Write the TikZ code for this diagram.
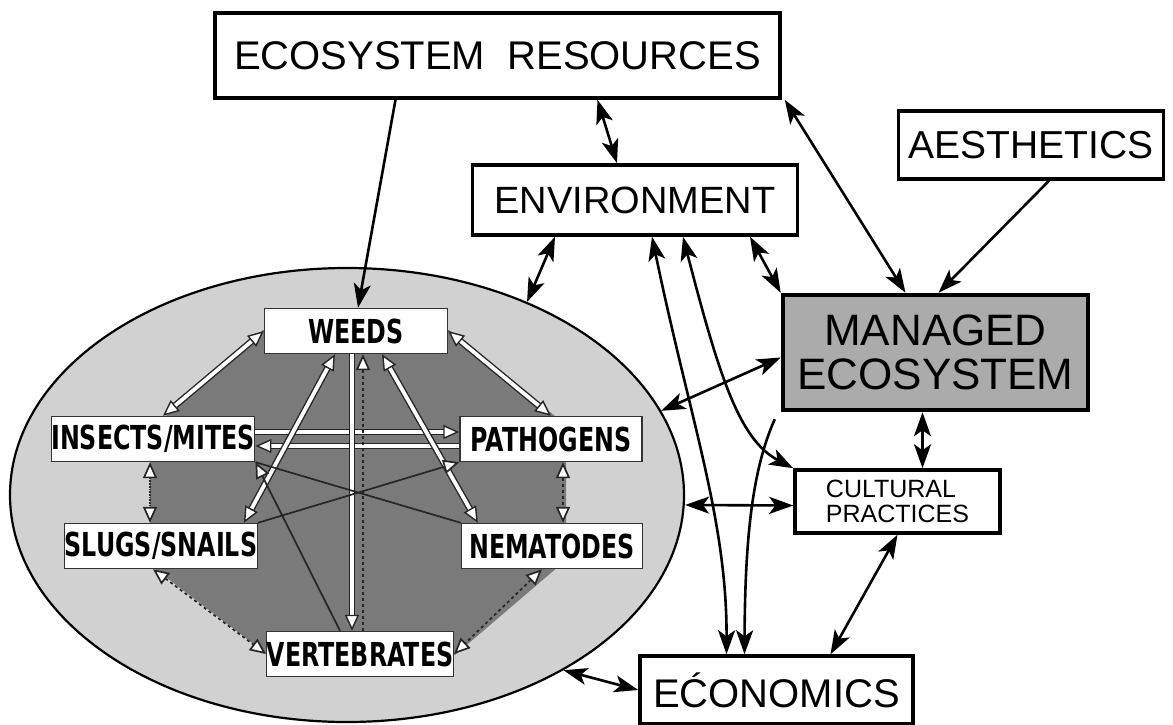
\documentclass[tikz,border=0pt]{standalone}
\usepackage{fontspec}
\setmainfont{Liberation Sans}
\newfontfamily\pestfont[FakeStretch=0.72]{DejaVu Sans Bold}
\usetikzlibrary{positioning, arrows.meta, shapes.geometric}
\tikzset{
  outer/.style={draw, line width=3.5pt, fill=white, inner sep=0pt},
  pest/.style={draw=black!80, line width=1.4pt, fill=white, inner sep=0pt, minimum height=45pt, font=\pestfont\fontsize{33}{33}\selectfont},
  link/.style={line width=2.6pt, {Stealth[length=24pt,width=17pt,inset=6pt]}-{Stealth[length=24pt,width=17pt,inset=6pt]}},
  onelink/.style={line width=2.6pt, -{Stealth[length=24pt,width=17pt,inset=6pt]}},
  band/.style={draw=black!85, line width=1.4pt, double=white, double distance=3.8pt},
  hollow/.style={{Triangle[length=16pt,width=14pt,fill=white]}-{Triangle[length=16pt,width=14pt,fill=white]}},
  onehollow/.style={-{Triangle[length=16pt,width=14pt,fill=white]}},
  thin/.style={draw=black!85, line width=1.7pt},
}
\begin{document}
\begin{tikzpicture}[x=1pt, y=-1pt]
      \useasboundingbox (0,0) rectangle (1173,725);

      \node[ellipse, draw, line width=2.2pt, fill=black!18, minimum width=674pt, minimum height=454pt] (field) at (347,495) {};
      \fill[black!52] (150,430) -- (263,330) -- (449,330) -- (566,425) -- (566,560) -- (455,655) -- (268,655) -- (150,565) -- cycle;

      \node[pest, minimum width=183pt] (weed) at (356,331) {WEEDS};
      \node[pest, minimum width=202pt] (ins) at (153,439) {INSECTS/MITES};
      \node[pest, minimum width=182pt] (path) at (551,439) {PATHOGENS};
      \node[pest, minimum width=192pt] (slug) at (161,546) {SLUGS/SNAILS};
      \node[pest, minimum width=181pt] (nema) at (552,546) {NEMATODES};
      \node[pest, minimum width=184pt] (vert) at (360,654) {VERTEBRATES};

      \draw[band, hollow] ([xshift=10pt]ins.north) -- (weed.west);
      \draw[band, hollow] (weed.east) -- (path.north);
      \draw[band, onehollow] ([yshift=7pt]ins.east) -- ([yshift=7pt]path.west);
      \draw[band, onehollow] ([yshift=-7pt]path.west) -- ([yshift=-7pt]ins.east);
      \draw[band, onehollow] ([xshift=-4pt]weed.south) -- ([xshift=-8pt]vert.north);
      \draw[thin, dashed, onehollow] ([xshift=3pt]vert.north) -- ([xshift=7pt]weed.south);
      \draw[band, hollow] ([xshift=26pt]weed.south) -- ([xshift=17pt]nema.north west);
      \draw[band, hollow] ([xshift=-21pt]weed.south) -- ([xshift=-14pt]slug.north east);
      \draw[thin, onehollow] ([xshift=-20pt]vert.north) -- (ins.south east);
      \draw[thin] (ins.south east) -- (nema.north west);
      \draw[thin, onehollow] (slug.north east) -- (path.south west);
      \draw[thin, dashed, hollow] ([xshift=12pt]path.south) -- ([xshift=11pt]nema.north);
      \draw[thin, densely dotted, hollow] ([xshift=-3pt]ins.south) -- ([xshift=-11pt]slug.north);
      \draw[thin, dashed, hollow] ([xshift=-8pt]slug.south) -- (vert.west);
      \draw[thin, dashed, hollow] ([xshift=-10pt]nema.south) -- (vert.east);

      \node[outer, minimum width=565pt, minimum height=85pt, font=\fontsize{40}{40}\selectfont] (res) at (497.5,55.5) {ECOSYSTEM\ \ RESOURCES};
      \node[outer, minimum width=325pt, minimum height=70pt, font=\fontsize{38}{38}\selectfont] (env) at (635,200) {ENVIRONMENT};
      \node[outer, minimum width=265pt, minimum height=68pt, font=\fontsize{39}{39}\selectfont] (aes) at (1031,145) {AESTHETICS};
      \node[outer, line width=4.5pt, fill=black!33, minimum width=305pt, minimum height=115pt, align=center, font=\fontsize{44}{44}\selectfont] (mgd) at (935.5,352.5) {MANAGED\\ECOSYSTEM};
      \node[outer, minimum width=205pt, minimum height=63pt, align=left, font=\fontsize{25}{25}\selectfont] (cult) at (897.5,501.5) {CULTURAL\\PRACTICES};
      \node[outer, minimum width=273pt, minimum height=68pt, font=\fontsize{40}{40}\selectfont] (econ) at (776.5,690) {EĆONOMICS};

      \draw[onelink] ([xshift=-102pt]res.south) -- ([xshift=2pt]weed.north);
      \draw[link] ([xshift=100pt]res.south) -- ([xshift=-18pt]env.north);
      \draw[link] ([xshift=3pt]res.south east) -- ([xshift=-30pt]mgd.north);
      \draw[onelink] ([xshift=18pt]aes.south) -- ([xshift=3pt]mgd.north);
      \draw[link] ([xshift=-80pt]env.south) -- (field.47);
      \draw[link] ([xshift=115pt]env.south) -- (mgd.north west);
      \draw[link] ([xshift=17pt]env.south) .. controls (690,420) and (727,520) .. ([xshift=-50pt]econ.north);
      \draw[link] ([xshift=48pt]env.south) .. controls (720,380) and (740,440) .. (cult.north west);
      \draw[onelink] ([xshift=-6pt,yshift=-7pt]mgd.south west) .. controls (752,470) and (745,540) .. ([xshift=-32pt]econ.north);
      \draw[link] ([yshift=-5pt]mgd.west) -- (field.15);
      \draw[link] ([xshift=-13pt]mgd.south) -- ([xshift=25pt]cult.north);
      \draw[link] ([yshift=-10pt]field.east) -- ([yshift=-4pt]cult.west);
      \draw[link] (cult.south) -- ([xshift=54pt]econ.north);
      \draw[link] (field.-39) -- (econ.west);
\end{tikzpicture}
\end{document}
